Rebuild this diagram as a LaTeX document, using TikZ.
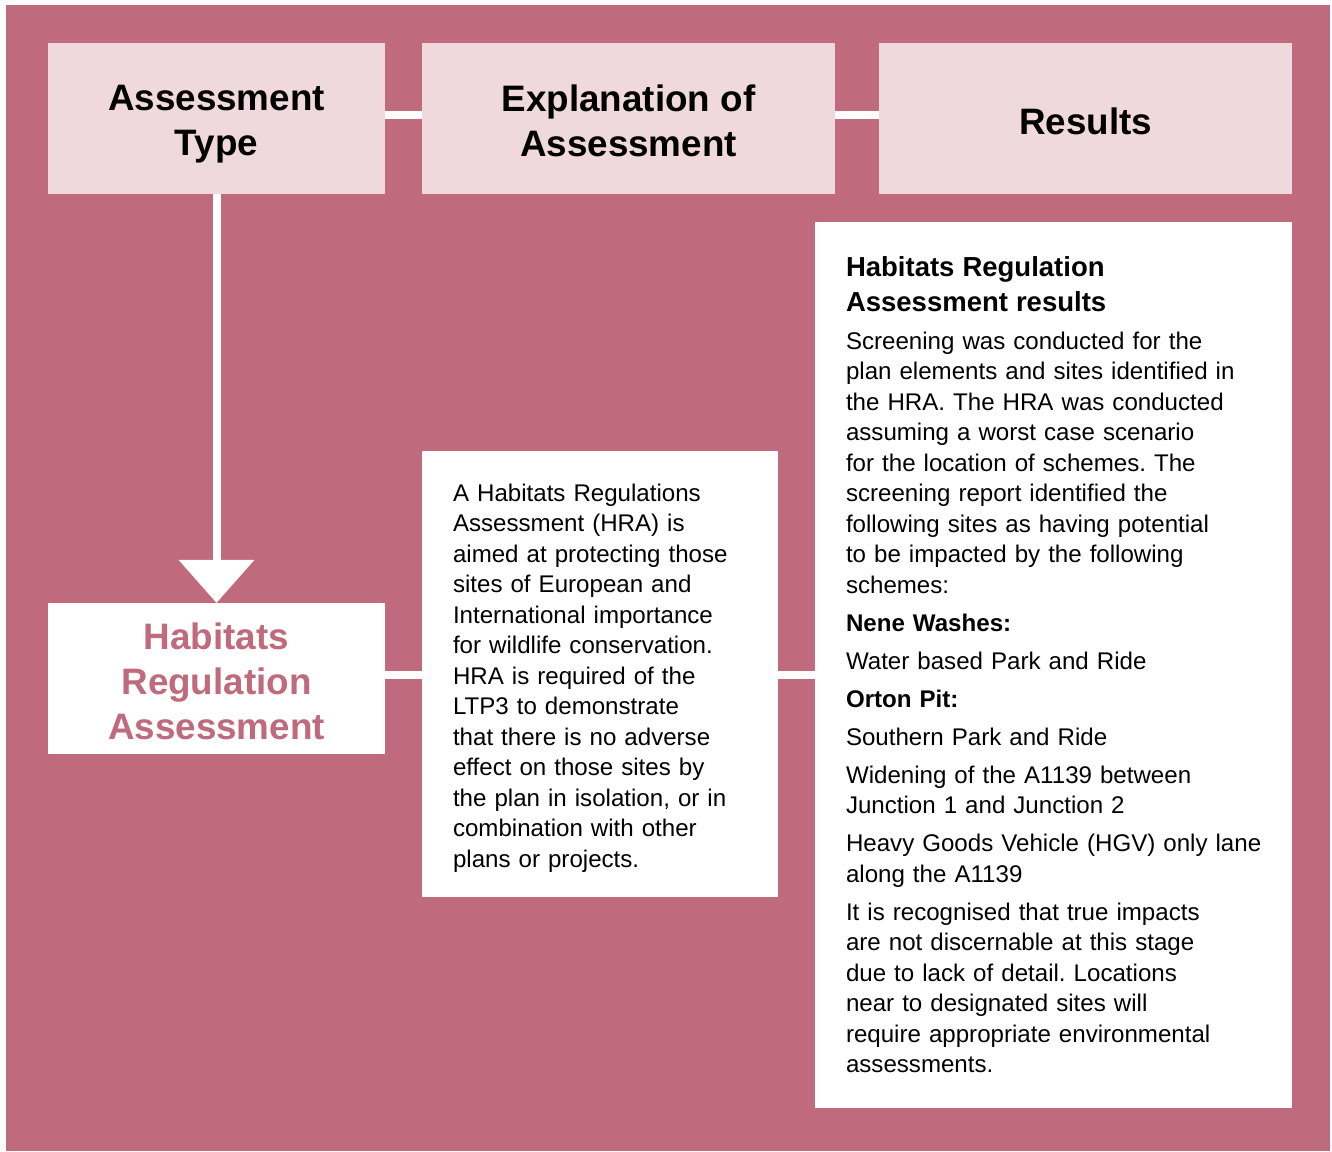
\documentclass[tikz,border=0pt]{standalone}
\usepackage{fontspec}
\setmainfont{Liberation Sans}
\usetikzlibrary{arrows.meta}
\definecolor{rose}{HTML}{C06A7D}
\definecolor{blush}{HTML}{F0D9DD}
\frenchspacing
\begin{document}
\begin{tikzpicture}[x=1pt,y=-1pt,
  titlebox/.style={fill=blush, inner sep=0pt},
  titletext/.style={inner sep=0pt, align=center,
    font=\bfseries\fontsize{36.8}{45}\selectfont},
  mainbox/.style={fill=white, inner sep=0pt},
  maintext/.style={titletext, text=rose},
  textbox/.style={fill=white, inner xsep=31pt, inner ysep=0pt, align=left,
    font=\frenchspacing\fontsize{24.1}{30.5}\selectfont},
  conn/.style={draw=white, line width=8pt}]
\useasboundingbox (0,0) rectangle (1332,1151);
\fill[white] (0,0) rectangle (1332,1151);
\fill[rose] (6,5) rectangle (1330,1151);

\node[titlebox, minimum width=337pt, minimum height=151pt] (A) at (216.5,118.5) {};
\node[titletext] (At) at ([yshift=-6pt]A.center) {Assessment\\Type};
\node[titlebox, minimum width=413pt, minimum height=151pt] (B) at (628.5,118.5) {};
\node[titletext] (Bt) at ([yshift=-2pt]B.center) {Explanation of\\Assessment};
\node[titlebox, minimum width=413pt, minimum height=151pt] (C) at (1085.5,118.5) {};
\node[titletext] (Ct) at ([yshift=-3pt]C.center) {Results};

\node[mainbox, minimum width=337pt, minimum height=151pt] (D) at (216.5,678.5) {};
\node[maintext] (Dt) at ([yshift=-3pt]D.center) {Habitats\\Regulation\\Assessment};

\node[textbox, text width=294pt, minimum height=446pt] (E) at (600,674) {%
\rule{0pt}{25pt}A Habitats Regulations\\
Assessment (HRA) is\\
aimed at protecting those\\
sites of European and\\
International importance\\
for wildlife conservation.\\
HRA is required of the\\
LTP3 to demonstrate\\
that there is no adverse\\
effect on those sites by\\
the plan in isolation, or in\\
combination with other\\
plans or projects.};

\node[textbox, text width=415pt, minimum height=886pt] (F) at (1053.5,665) {%
{\bfseries\fontsize{27.5}{35}\selectfont Habitats Regulation\\Assessment results\par}
\vspace{7pt}
Screening was conducted for the\\
plan elements and sites identified in\\
the HRA. The HRA was conducted\\
assuming a worst case scenario\\
for the location of schemes. The\\
screening report identified the\\
following sites as having potential\\
to be impacted by the following\\
schemes:\par
\vspace{7.5pt}
{\bfseries Nene Washes:}\par
\vspace{7.5pt}
Water based Park and Ride\par
\vspace{7.5pt}
{\bfseries Orton Pit:}\par
\vspace{7.5pt}
Southern Park and Ride\par
\vspace{7.5pt}
Widening of the A1139 between\\
Junction 1 and Junction 2\par
\vspace{7.5pt}
\mbox{Heavy Goods Vehicle (HGV) only lane}\\
along the A1139\par
\vspace{7.5pt}
It is recognised that true impacts\\
are not discernable at this stage\\
due to lack of detail. Locations\\
near to designated sites will\\
require appropriate environmental\\
assessments.};

\draw[conn] ([yshift=3.5pt]A.east) -- ([yshift=3.5pt]B.west);
\draw[conn] ([yshift=3.5pt]B.east) -- ([yshift=3.5pt]C.west);
\draw[conn, -{Triangle[width=76pt,length=43pt,line width=0pt]}] (A.south) -- (D.north);
\draw[conn] ([yshift=3.5pt]D.east) -- ([yshift=3.5pt]D.east -| E.west);
\draw[conn] ([yshift=-1pt]E.east) -- ([yshift=-1pt]E.east -| F.west);
\end{tikzpicture}
\end{document}
